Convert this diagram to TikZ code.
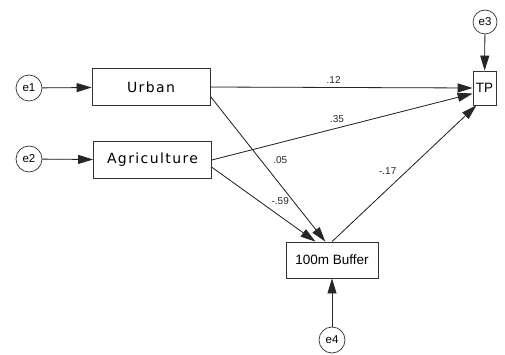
\documentclass[tikz,border=0pt]{standalone}
\usepackage{fontspec}
\setmainfont{Liberation Sans}
\newfontfamily\wideface[LetterSpace=10]{DejaVu Sans}
\usepackage{tikz}
\usetikzlibrary{arrows.meta,shapes.geometric,positioning,calc}

\begin{document}
\begin{tikzpicture}[
    x=1pt, y=-1pt,
    var/.style={draw=black!80, line width=0.8pt, minimum width=118pt, minimum height=37pt, inner sep=0pt, align=center, font=\wideface\fontsize{14}{16}\selectfont},
    obs/.style={draw=black!80, line width=0.8pt, inner sep=0pt, align=center, font=\fontsize{13.5}{15}\selectfont},
    err/.style={draw=black!80, circle, line width=0.7pt, minimum size=26pt, inner sep=0pt, font=\fontsize{11.5}{12}\selectfont},
    coef/.style={font=\fontsize{10}{11}\selectfont, inner sep=1pt, text=black!85},
    arr/.style={-{Triangle[length=15pt,width=9pt]}, line width=0.8pt, draw=black!85, fill=black}
]
\useasboundingbox (0,0) rectangle (505,355);

% exogenous variables
\node[var] (urban) at (151,87) {Urban};
\node[var] (agri) at (152.5,160) {Agriculture};
\node[err] (e1) at (29,88) {e1};
\node[err] (e2) at (29,159) {e2};

% endogenous variables
\node[obs, minimum width=23pt, minimum height=34pt] (tp) at (484.5,88) {TP};
\node[obs, minimum width=92pt, minimum height=36pt] (buffer) at (332,260) {100m Buffer};
\node[err, minimum size=24pt] (e3) at (485,22) {e3};
\node[err] (e4) at (332,340) {e4};

\draw[arr] (e1) -- (urban);
\draw[arr] (e2) -- (agri);
\draw[arr] (e3) -- (tp);
\draw[arr] (e4) -- (buffer);

\draw[arr] (urban.east) -- node[coef, pos=0.47, above=3pt] {.12} (tp.west);
\draw[arr] (agri.east) -- node[coef, pos=0.48, above=4pt] {.35} (tp.205);
\draw[arr] (urban.-9) -- node[coef, pos=0.44, right=11pt] {.05} (buffer.110);
\draw[arr] (agri.-7) -- node[coef, pos=0.66, above=10pt] {-.59} (buffer.132);
\draw[arr] (buffer.north) -- node[coef, pos=0.47, above left=3pt] {-.17} (tp.245);
\end{tikzpicture}
\end{document}
